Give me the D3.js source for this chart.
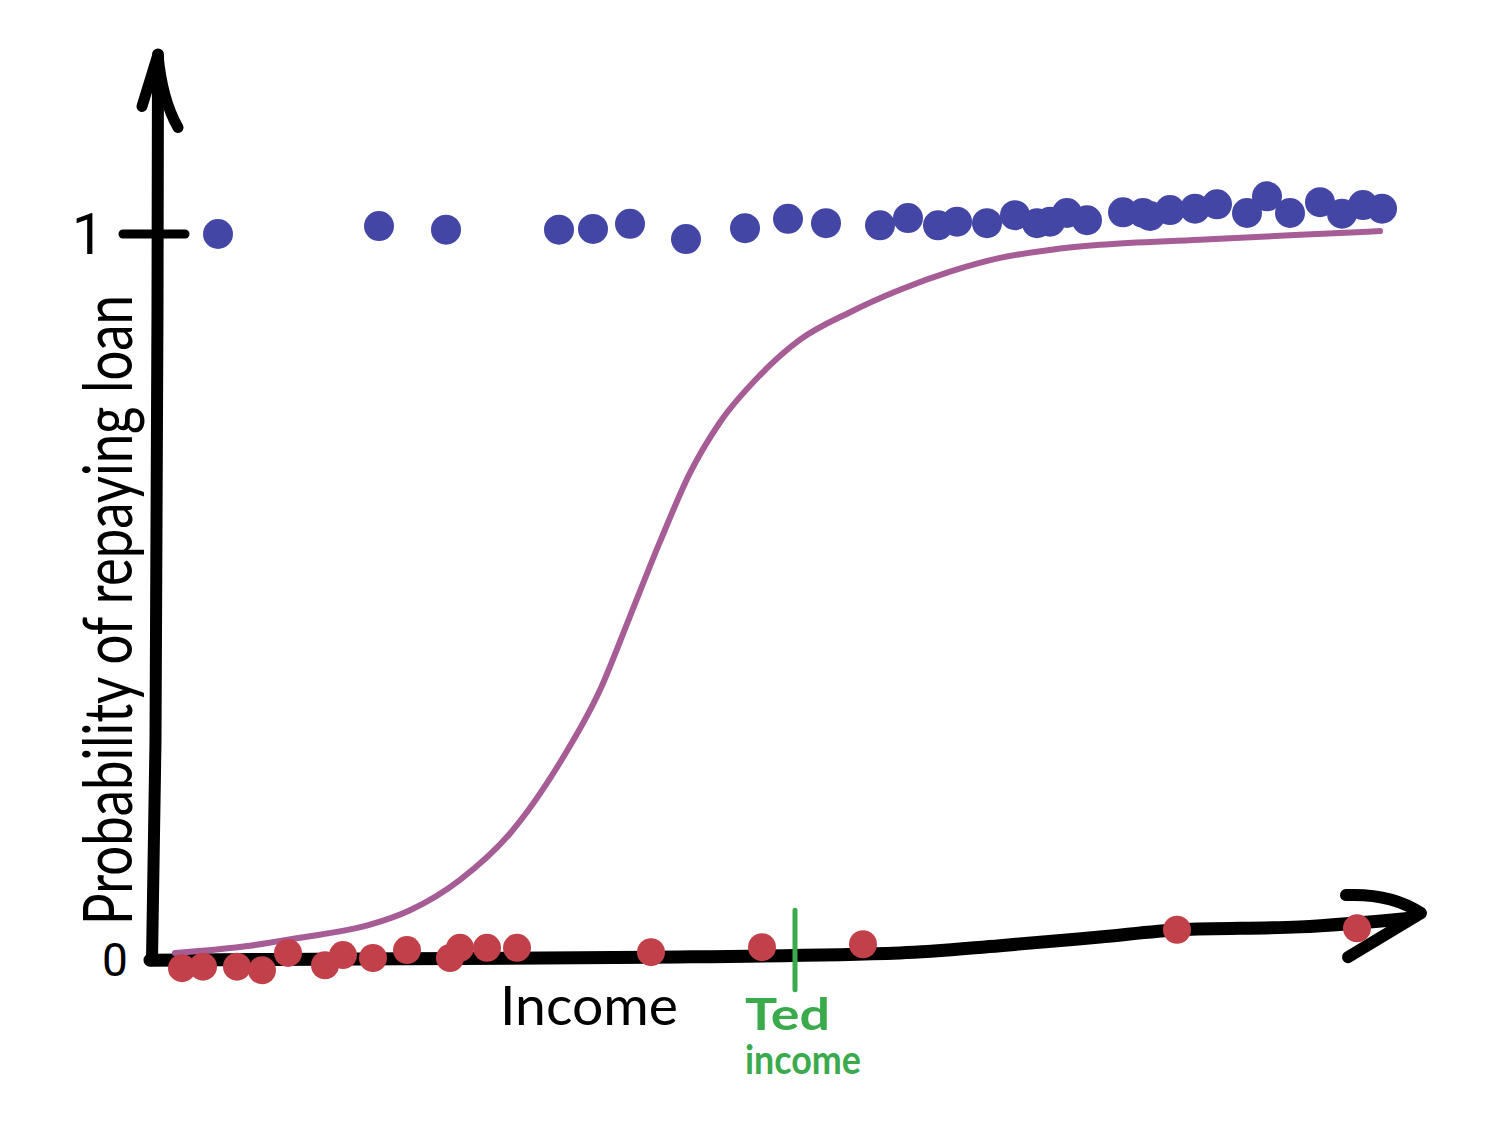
<!DOCTYPE html>
<html>
<head>
<meta charset="utf-8">
<script src="https://cdn.jsdelivr.net/npm/d3@7/dist/d3.min.js"></script>
<style>
  body { margin: 0; background: #fff; }
  text { font-family: Lato, "Open Sans", sans-serif; }
</style>
</head>
<body>
<div id="vis"></div>
<script>
// ---- data (income in arbitrary units, probability 0..1) ----
var repaidIncome = [63, 224, 291, 404, 438, 475, 531, 590, 633, 671, 725, 753, 783, 802,
  832, 860, 882, 895, 912, 932, 968, 988, 995, 1015, 1040, 1062, 1092, 1112, 1135, 1165,
  1187, 1208, 1227];
var repaidProb = [1.000, 1.011, 1.006, 1.006, 1.007, 1.014, 0.993, 1.008, 1.021, 1.015,
  1.012, 1.022, 1.012, 1.017, 1.015, 1.026, 1.015, 1.017, 1.029, 1.019, 1.030, 1.029,
  1.025, 1.033, 1.035, 1.041, 1.029, 1.052, 1.029, 1.044, 1.028, 1.040, 1.035];

var defaultIncome = [27, 48, 82, 107, 133, 170, 188, 218, 252, 295, 305, 332, 362, 496,
  607, 708, 1022, 1202];
var defaultProb = [-0.014, -0.012, -0.012, -0.017, 0.007, -0.010, 0.004, 0.000, 0.011,
  0.000, 0.014, 0.014, 0.014, 0.008, 0.015, 0.019, 0.039, 0.041];

// the hand drawn logistic curve
var curveIncome = [20, 95, 145, 215, 255, 305, 355, 405, 445, 475, 505, 535, 565, 605,
  645, 695, 745, 795, 845, 895, 945, 1045, 1145, 1225];
var curveProb = [0.007, 0.017, 0.028, 0.046, 0.066, 0.108, 0.172, 0.270, 0.370, 0.472,
  0.575, 0.670, 0.740, 0.805, 0.854, 0.892, 0.923, 0.948, 0.967, 0.978, 0.985, 0.992,
  0.999, 1.004];

// wobbly x axis as sketched (it drifts upward at the right)
var axisIncome = [-5, 245, 495, 745, 845, 945, 1025, 1145, 1255];
var axisProb = [-0.003, -0.001, 0.001, 0.007, 0.017, 0.029, 0.039, 0.043, 0.055];

var tedIncome = 640;
var yTicks = [0, 1];

var width = 1511, height = 1130;

var x = d3.scaleLinear().domain([0, 1250]).range([155, 1405]);
var y = d3.scaleLinear().domain([0, 1]).range([958, 234]);

var svg = d3.select('#vis').append('svg')
  .attr('width', width)
  .attr('height', height);

var ink = '#000';

// ---- axes ----
var line = d3.line()
  .x(function(d) { return x(d[0]); })
  .y(function(d) { return y(d[1]); });

// y axis: slightly slanted stroke from the top arrow down to the corner
svg.append('path')
  .attr('d', line([[3, 1.248], [2.5, 0.9], [0.5, 0.3], [-3, -0.003]]))
  .attr('fill', 'none')
  .attr('stroke', ink)
  .attr('stroke-width', 12)
  .attr('stroke-linecap', 'round')
  .attr('stroke-linejoin', 'round');

// y arrow head
var yTip = [x(3), y(1.248)];
svg.append('path')
  .attr('d', 'M' + (yTip[0] - 16) + ',' + (yTip[1] + 52) + ' L' + yTip[0] + ',' + yTip[1] +
    ' Q' + (yTip[0] + 4) + ',' + (yTip[1] + 45) + ' ' + (yTip[0] + 20) + ',' + (yTip[1] + 73))
  .attr('fill', 'none')
  .attr('stroke', ink)
  .attr('stroke-width', 11)
  .attr('stroke-linecap', 'round')
  .attr('stroke-linejoin', 'round');

// x axis
var axisPts = axisIncome.map(function(d, i) { return [d, axisProb[i]]; });
svg.append('path')
  .attr('d', line.curve(d3.curveMonotoneX)(axisPts))
  .attr('fill', 'none')
  .attr('stroke', ink)
  .attr('stroke-width', 13)
  .attr('stroke-linecap', 'round');
line.curve(d3.curveLinear);

// x arrow head
var xTip = [x(1266), y(0.062)];
svg.append('path')
  .attr('d', 'M' + (xTip[0] - 75) + ',' + (xTip[1] - 18) +
    ' Q' + (xTip[0] - 30) + ',' + (xTip[1] - 20) + ' ' + xTip[0] + ',' + xTip[1] +
    ' L' + (xTip[0] - 73) + ',' + (xTip[1] + 44))
  .attr('fill', 'none')
  .attr('stroke', ink)
  .attr('stroke-width', 12)
  .attr('stroke-linecap', 'round')
  .attr('stroke-linejoin', 'round');

// tick at probability 1
svg.append('line')
  .attr('x1', x(-32)).attr('x2', x(30))
  .attr('y1', y(1)).attr('y2', y(1))
  .attr('stroke', ink)
  .attr('stroke-width', 9)
  .attr('stroke-linecap', 'round');

// tick labels
svg.selectAll('.ytick')
  .data(yTicks)
  .enter()
  .append('text')
  .attr('class', 'ytick')
  .attr('x', function(d) { return d === 1 ? 88 : 115; })
  .attr('y', function(d) { return y(d) + (d === 1 ? 20 : 18); })
  .attr('text-anchor', 'middle')
  .style('font-family', 'Roboto, sans-serif')
  .style('font-size', function(d) { return d === 1 ? '58px' : '46px'; })
  .attr('fill', ink)
  .text(function(d) { return d; });

// ---- logistic curve ----
var curvePts = curveIncome.map(function(d, i) { return [d, curveProb[i]]; });
svg.append('path')
  .attr('d', d3.line()
    .x(function(d) { return x(d[0]); })
    .y(function(d) { return y(d[1]); })
    .curve(d3.curveMonotoneX)(curvePts))
  .attr('fill', 'none')
  .attr('stroke', '#a65c95')
  .attr('stroke-width', 6)
  .attr('stroke-linecap', 'round');

// ---- dots ----
var repaid = repaidIncome.map(function(d, i) { return {income: d, p: repaidProb[i]}; });
var defaulted = defaultIncome.map(function(d, i) { return {income: d, p: defaultProb[i]}; });

svg.selectAll('.repaid')
  .data(repaid)
  .enter()
  .append('circle')
  .attr('class', 'repaid')
  .attr('cx', function(d) { return x(d.income); })
  .attr('cy', function(d) { return y(d.p); })
  .attr('r', 15)
  .attr('fill', '#4446a6');

svg.selectAll('.defaulted')
  .data(defaulted)
  .enter()
  .append('circle')
  .attr('class', 'defaulted')
  .attr('cx', function(d) { return x(d.income); })
  .attr('cy', function(d) { return y(d.p); })
  .attr('r', 14)
  .attr('fill', '#c2404a');

// ---- Ted's income marker ----
var green = '#3aaa4c';
svg.append('line')
  .attr('x1', x(tedIncome)).attr('x2', x(tedIncome))
  .attr('y1', y(0.066)).attr('y2', y(-0.044))
  .attr('stroke', green)
  .attr('stroke-width', 5)
  .attr('stroke-linecap', 'round');

svg.append('text')
  .attr('x', x(tedIncome) - 50)
  .attr('y', 1030)
  .attr('fill', green)
  .style('font-size', '44px')
  .style('font-weight', 'bold')
  .attr('textLength', 85)
  .attr('lengthAdjust', 'spacingAndGlyphs')
  .text('Ted');

svg.append('text')
  .attr('x', x(tedIncome) - 50)
  .attr('y', 1074)
  .attr('fill', green)
  .style('font-size', '40px')
  .style('font-weight', 'bold')
  .attr('textLength', 116)
  .attr('lengthAdjust', 'spacingAndGlyphs')
  .text('income');

// ---- axis titles ----
svg.append('text')
  .attr('x', 500)
  .attr('y', 1025)
  .attr('fill', ink)
  .style('font-size', '54px')
  .attr('textLength', 178)
  .attr('lengthAdjust', 'spacingAndGlyphs')
  .text('Income');

svg.append('text')
  .attr('transform', 'translate(132,610) rotate(-90)')
  .attr('text-anchor', 'middle')
  .attr('fill', ink)
  .style('font-size', '68px')
  .attr('textLength', 630)
  .attr('lengthAdjust', 'spacingAndGlyphs')
  .text('Probability of repaying loan');
</script>
</body>
</html>
